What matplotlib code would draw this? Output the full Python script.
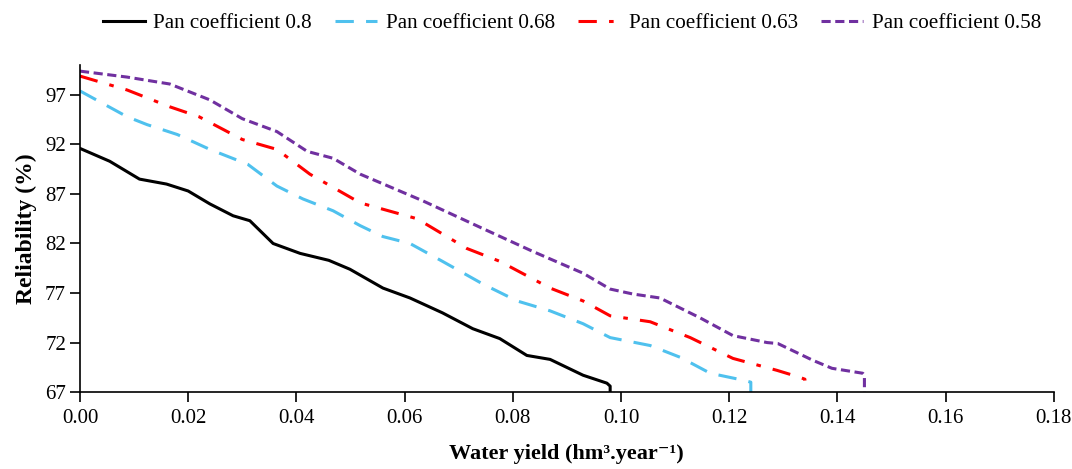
import matplotlib.pyplot as plt
from matplotlib.ticker import FormatStrFormatter

plt.rcParams['font.family'] = ['Liberation Serif', 'DejaVu Serif']

# Pan coefficient 0.8
x_08 = [0.000, 0.0055, 0.011, 0.016, 0.020, 0.024, 0.0283, 0.0314, 0.0357, 0.0407,
        0.046, 0.0499, 0.056, 0.061, 0.067, 0.0726, 0.0776, 0.0826, 0.0869, 0.093,
        0.0974, 0.098, 0.098]
y_08 = [91.6, 90.3, 88.5, 88.0, 87.3, 86.0, 84.8, 84.3, 82.0, 81.0,
        80.3, 79.4, 77.5, 76.5, 75.0, 73.4, 72.4, 70.7, 70.3, 68.7,
        67.9, 67.6, 67.0]

# Pan coefficient 0.68
x_068 = [0.000, 0.0087, 0.0124, 0.018, 0.024, 0.031, 0.0364, 0.0412, 0.0468, 0.0518,
         0.056, 0.061, 0.067, 0.0745, 0.0808, 0.0869, 0.093, 0.098, 0.1054, 0.111,
         0.1165, 0.1226, 0.124, 0.124]
y_068 = [97.4, 94.8, 94.0, 93.0, 91.5, 90.0, 87.8, 86.5, 85.3, 83.8,
         82.7, 82.0, 80.2, 77.9, 76.2, 75.2, 73.9, 72.5, 71.7, 70.5,
         68.9, 68.2, 68.0, 67.0]

# Pan coefficient 0.63
x_063 = [0.000, 0.0087, 0.0166, 0.022, 0.030, 0.0364, 0.0425, 0.0518, 0.0623, 0.0715,
         0.0776, 0.0869, 0.093, 0.098, 0.1054, 0.1128, 0.1207, 0.1288, 0.133, 0.134, 0.134]
y_063 = [98.9, 97.5, 95.8, 94.8, 92.5, 91.5, 89.0, 86.1, 84.5, 81.5,
         80.2, 77.5, 76.2, 74.7, 74.1, 72.5, 70.4, 69.2, 68.5, 68.3, 67.0]

# Pan coefficient 0.58
x_058 = [0.000, 0.0087, 0.0166, 0.024, 0.030, 0.0364, 0.042, 0.0468, 0.0518, 0.0634,
         0.0745, 0.0837, 0.093, 0.098, 0.1022, 0.1072, 0.1146, 0.1207, 0.127, 0.129,
         0.1355, 0.139, 0.1447, 0.145, 0.145]
y_058 = [99.4, 98.8, 98.1, 96.5, 94.6, 93.3, 91.3, 90.6, 89.0, 86.3,
         83.5, 81.2, 79.0, 77.4, 76.9, 76.5, 74.5, 72.7, 72.0, 71.9,
         70.2, 69.4, 68.9, 68.7, 67.0]

fig = plt.figure(figsize=(10.72, 4.69), dpi=100)
ax = fig.add_axes([0.0746, 0.164, 0.9084, 0.697])

kw = dict(lw=2.2, solid_joinstyle='round', dash_joinstyle='round')
ax.plot(x_08, y_08, color='black', label='Pan coefficient 0.8', **kw)
ax.plot(x_068, y_068, color='#4FC1EE', dashes=(6, 4), label='Pan coefficient 0.68', **kw)
ax.plot(x_063, y_063, color='#FF0000', dashes=(6, 4, 1.5, 4), label='Pan coefficient 0.63', **kw)
ax.plot(x_058, y_058, color='#7030A0', dashes=(3, 1.5), label='Pan coefficient 0.58', **kw)

ax.set_xlim(0, 0.18)
ax.set_ylim(67, 100)
ax.set_xticks([0.00, 0.02, 0.04, 0.06, 0.08, 0.10, 0.12, 0.14, 0.16, 0.18])
ax.set_yticks([67, 72, 77, 82, 87, 92, 97])
ax.xaxis.set_major_formatter(FormatStrFormatter('%.2f'))
ax.tick_params(axis='both', labelsize=15, direction='out', length=7, width=1.2)
ax.tick_params(axis='x', pad=5)
ax.tick_params(axis='y', pad=3)
for s in ['top', 'right']:
    ax.spines[s].set_visible(False)
for s in ['left', 'bottom']:
    ax.spines[s].set_linewidth(1.2)

ax.set_xlabel('Water yield (hm³.year⁻¹)', fontsize=16, fontweight='bold', labelpad=12)
ax.set_ylabel('Reliability (%)', fontsize=17, fontweight='bold', labelpad=6)

ax.legend(loc='lower center', bbox_to_anchor=(0.505, 1.04), ncol=4, frameon=False,
          fontsize=15.2, handlelength=2.0, columnspacing=1.1, handletextpad=0.4)

fig.savefig('out.png', dpi=100)
